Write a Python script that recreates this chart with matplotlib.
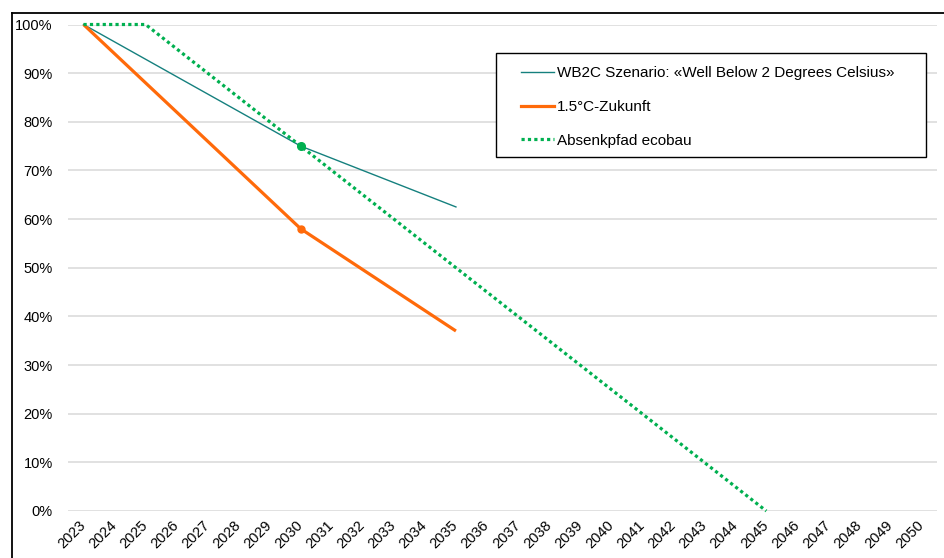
import matplotlib
matplotlib.use("Agg")
import matplotlib.pyplot as plt
from matplotlib.lines import Line2D
from matplotlib.patches import Rectangle
import numpy as np

plt.rcParams['font.family'] = ['Liberation Sans', 'DejaVu Sans']

years = list(range(2023, 2051))
year_labels = [str(y) for y in years]

wb2c_years = [2023, 2030, 2035]
wb2c_values = [1.00, 0.75, 0.625]

c15_years = [2023, 2030, 2035]
c15_values = [1.00, 0.58, 0.37]

eco_years = [2023, 2025, 2030, 2045]
eco_values = [1.00, 1.00, 0.75, 0.00]

labels = ["WB2C Szenario: «Well Below 2 Degrees Celsius»", "1.5°C-Zukunft", "Absenkpfad ecobau"]
yticks = [0, 0.1, 0.2, 0.3, 0.4, 0.5, 0.6, 0.7, 0.8, 0.9, 1.0]

W, H = 944, 558
fig = plt.figure(figsize=(W/100, H/100), dpi=100)
ax = fig.add_axes([68/W, 1-511/H, (937-68)/W, (511-24.5)/H])

def xi(ys):
    return [years.index(y) for y in ys]

teal = '#15807E'
orange = '#FF6A0A'
green = '#00B050'

l1, = ax.plot(xi(wb2c_years), wb2c_values, color=teal, lw=1.0, zorder=3, clip_on=False)
l2, = ax.plot(xi(c15_years), c15_values, color=orange, lw=2.3, zorder=3, clip_on=False,
              marker='o', markersize=5, markevery=[1], solid_capstyle='butt')
l3, = ax.plot(xi(eco_years), eco_values, color=green, lw=2.3, zorder=4, clip_on=False,
              dashes=(1, 1), marker='o', markersize=5.5, markevery=[2])

ax.set_xlim(-0.5, len(years)-0.5)
ax.set_ylim(0, 1)
ax.set_yticks(yticks)
ax.set_yticklabels([f"{int(round(v*100))}%" for v in yticks], fontsize=10.5)
ax.set_xticks(range(len(years)))
ax.set_xticklabels(year_labels, fontsize=10.5, rotation=45, ha='right', va='center',
                   rotation_mode='anchor')
ax.tick_params(axis='both', length=0)
ax.tick_params(axis='y', pad=11)
ax.tick_params(axis='x', pad=9)
ax.grid(axis='y', color='#D9D9D9', lw=1.1)
ax.set_axisbelow(True)
for s in ax.spines.values():
    s.set_visible(False)

# outer chart frame (partially visible)
fig.add_artist(Line2D([12/W, 12/W], [1-13/H, 0], transform=fig.transFigure, color='black', lw=1.3))
fig.add_artist(Line2D([12/W, 1], [1-13/H, 1-13/H], transform=fig.transFigure, color='black', lw=1.3))

# legend box
fig.add_artist(Rectangle((496/W, 1-156.7/H), (926-496)/W, (156.7-53.3)/H,
                         transform=fig.transFigure, facecolor='white', edgecolor='black', lw=1.0, zorder=5))
h1 = Line2D([], [], color=teal, lw=1.0)
h2 = Line2D([], [], color=orange, lw=2.3)
h3 = Line2D([], [], color=green, lw=2.3, dashes=(1, 1))
leg = fig.legend([h1, h2, h3], labels, loc='upper left',
                 bbox_to_anchor=(521/W, 1-66.5/H), bbox_transform=fig.transFigure,
                 frameon=False, fontsize=11, handlelength=2.15, handletextpad=0.2,
                 labelspacing=1.28, borderpad=0, borderaxespad=0)
leg.set_zorder(6)

fig.savefig("out.png", dpi=100)
